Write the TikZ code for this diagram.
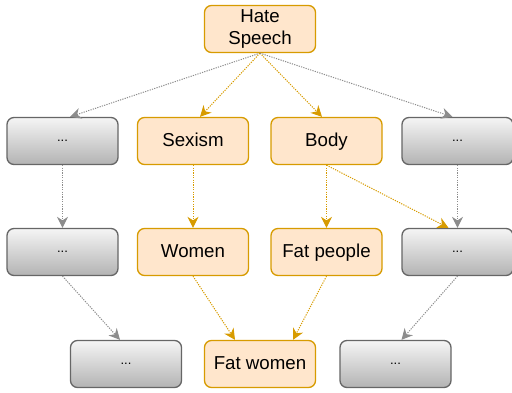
\documentclass[tikz,border=0pt]{standalone}
\usepackage{fontspec}
\setmainfont{Liberation Sans}
\usetikzlibrary{arrows.meta,calc}
\definecolor{ofill}{HTML}{FFE6CC}
\definecolor{odraw}{HTML}{D79B00}
\definecolor{gdraw}{HTML}{666666}
\definecolor{gtop}{HTML}{F5F5F5}
\definecolor{gbot}{HTML}{B3B3B3}
\definecolor{gedge}{HTML}{8C8C8C}
\tikzset{
  box/.style={rounded corners=7pt, minimum width=111pt, minimum height=47pt, line width=1.3pt, inner sep=0pt},
  obox/.style={box, draw=odraw, fill=ofill, font=\fontsize{18.7}{21.7}\selectfont, align=center},
  oline/.style={obox, text height=16.9pt, text depth=5.5pt},
  gbox/.style={box, draw=gdraw, top color=gtop, bottom color=gbot, font=\fontsize{13}{14}\selectfont},
  oedge/.style={draw=odraw, line width=1pt, dash pattern=on 1.2pt off 1.2pt, -{Stealth[length=11pt,width=11pt,inset=3.5pt,fill=odraw]}},
  gedgest/.style={draw=gedge, line width=1pt, dash pattern=on 1.2pt off 1.2pt, -{Stealth[length=11pt,width=11pt,inset=3.5pt,fill=gedge]}},
}
\begin{document}
\begin{tikzpicture}[x=1pt,y=-1pt]
\useasboundingbox (0,0) rectangle (512,392);
\node[obox] (hs) at (260,29) {Hate\\Speech};
\node[gbox] (g1) at (62.5,141) {...};
\node[oline] (sx) at (193,141) {Sexism};
\node[oline] (bd) at (326.5,141) {Body};
\node[gbox] (g2) at (457.5,141) {...};
\node[gbox] (g3) at (62.5,252) {...};
\node[oline] (wm) at (193,252) {Women};
\node[oline] (fp) at (326.5,252) {Fat people};
\node[gbox] (g4) at (457.5,252) {...};
\node[gbox] (g5) at (126,364) {...};
\node[oline] (fw) at (260,364) {Fat women};
\node[gbox] (g6) at (395.5,364) {...};

\draw[gedgest] (hs.south) -- ($(g1.north)+(7.5,0)$);
\draw[oedge] (hs.south) -- ($(sx.north)+(7,0)$);
\draw[oedge] (hs.south) -- ($(bd.north)+(-4.5,0)$);
\draw[gedgest] (hs.south) -- ($(g2.north)+(-5,0)$);

\draw[gedgest] (g1.south) -- (g3.north);
\draw[oedge] (sx.south) -- (wm.north);
\draw[oedge] (bd.south) -- (fp.north);
\draw[gedgest] (g2.south) -- (g4.north);
\draw[oedge] (bd.south) -- ($(g4.north)+(-9,0)$);

\draw[gedgest] (g3.south) -- ($(g5.north)+(-6,0)$);
\draw[oedge] (wm.south) -- ($(fw.north)+(-25,0)$);
\draw[oedge] (fp.south) -- ($(fw.north)+(33,0)$);
\draw[gedgest] (g4.south) -- ($(g6.north)+(6,0)$);
\end{tikzpicture}
\end{document}
